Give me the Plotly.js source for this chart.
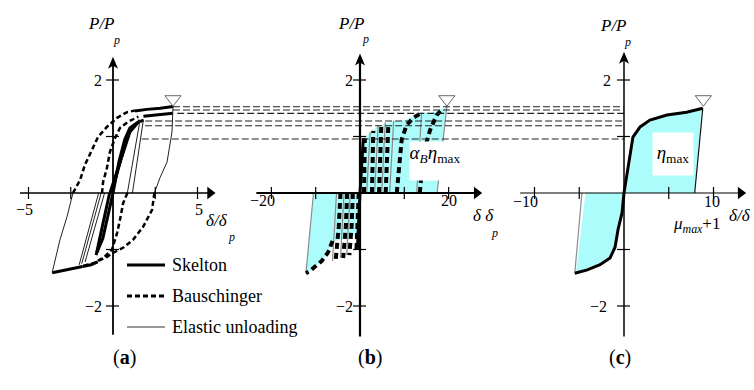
<!DOCTYPE html>
<html><head><meta charset="utf-8">
<script src="https://cdn.plot.ly/plotly-3.0.1.min.js"></script>
<style>html,body{margin:0;padding:0;background:#fff}#chart{width:754px;height:390px}</style>
</head><body><div id="chart"></div>
<script>
// ================= DATA (δ/δp , P/Pp) =================
// ---- panel (a): hysteresis loops ----
const aSkel1X=[0,0.35,0.7,1.0,1.4,1.8],      aSkel1Y=[0,0.55,0.95,1.15,1.24,1.29];
const aSkel2X=[-0.18,0.4,1.0,1.6],           aSkel2Y=[0,0.55,1.08,1.29];
const aSkel3X=[-0.08,0.4,0.81],              aSkel3Y=[0,0.55,0.97];
const aSkel4X=[1.3,2.0,2.8,3.55],            aSkel4Y=[1.45,1.48,1.5,1.53];
const aSkel5X=[1.8,2.6,3.55],                aSkel5Y=[1.36,1.38,1.41];
const aSkel6X=[0,-0.3,-0.6,-0.95],           aSkel6Y=[0,-0.4,-0.8,-1.05];
const aSkel7X=[-0.2,-0.6,-1.0],              aSkel7Y=[0,-0.55,-1.1];
const aSkel8X=[-0.9,-1.3,-1.8],              aSkel8Y=[-1.22,-1.27,-1.3];
const aSkel9X=[-1.8,-2.7,-3.6],              aSkel9Y=[-1.3,-1.36,-1.41];

const aEla1X=[3.55,3.49,3.2,2.78,2.45],      aEla1Y=[1.53,1.08,0.55,0.27,0];
const aEla2X=[-3.6,-3.14,-2.72,-2.37],       aEla2Y=[-1.41,-0.83,-0.42,0];
const aEla3X=[1.6,0.85],                     aEla3Y=[1.29,0];
const aEla4X=[1.8,1.15],                     aEla4Y=[1.3,0];
const aEla5X=[-1.65,-0.5],                   aEla5Y=[-1.22,0];
const aEla6X=[-1.85,-0.7],                   aEla6Y=[-1.25,0];
const aEla7X=[-2.0,-0.85],                   aEla7Y=[-1.27,0];

const aBaus1X=[-2.37,-1.95,-1.66,-1.18,-0.89,-0.36,0.24,0.83,1.3], aBaus1Y=[0,0.23,0.5,0.8,0.99,1.17,1.33,1.43,1.46];
const aBaus2X=[-0.65,-0.59,-0.36,-0.18,0.12,0.41,0.89,1.5],       aBaus2Y=[0,0.19,0.44,0.73,0.97,1.15,1.26,1.35];
const aBaus3X=[2.45,2.31,1.78,1.18,0.59,0,-0.36,-1.13,-1.8],      aBaus3Y=[0,-0.3,-0.6,-0.83,-0.97,-1.06,-1.13,-1.24,-1.29];
const aBaus4X=[0.85,0.6,0.41,0.24,-0.06,-0.5,-0.9],               aBaus4Y=[0,-0.18,-0.48,-0.71,-1.0,-1.13,-1.2];

// ---- panel (b): decomposed Bauschinger parts ----
const bCyanPosX=[0,0.75,1.1,2.3,3.0,4.1,4.8,5.7,6.4,7.6,9.4,10.5,12.0,13.9,15.8,17.3,18.8,19.6,17.4];
const bCyanPosY=[0,0.97,0.97,1.08,1.1,1.2,1.17,1.25,1.22,1.28,1.28,1.3,1.36,1.42,1.42,1.45,1.5,1.53,0];
const bCyanNegX=[0,-0.5,-1.5,-2.5,-3.5,-4.5,-5.5,-6.4,-7.2,-8.6,-10.0,-11.3,-12.2,-10.5];
const bCyanNegY=[0,-0.8,-0.75,-0.8,-0.8,-0.82,-0.85,-0.89,-1.05,-1.2,-1.3,-1.38,-1.42,0];

const bSkelPosX=[0,0.35,0.75],  bSkelPosY=[0,0.55,0.97];
const bSkelNegX=[0,-0.3,-0.6],  bSkelNegY=[0,-0.5,-1.0];

const bBp1X=[0.9,1.0,1.1],   bBp1Y=[0,0.5,0.97];
const bBp2X=[2.7,2.8,3.0],   bBp2Y=[0,0.6,1.1];
const bBp3X=[4.3,4.45,4.8],  bBp3Y=[0,0.6,1.17];
const bBp4X=[5.8,6.0,6.4],   bBp4Y=[0,0.6,1.22];
const bBp5X=[8.3,8.8,9.4,10.5,12.0,13.9],  bBp5Y=[0,0.5,0.94,1.2,1.33,1.42];
const bBp6X=[13.5,13.9,14.3,15.8,17.3,18.8], bBp6Y=[0,0.35,0.7,1.11,1.38,1.5];
const bBn1X=[-0.3,-0.5,-0.8],  bBn1Y=[0,-0.6,-1.0];
const bBn2X=[-1.6,-1.9,-2.4],  bBn2Y=[0,-0.6,-1.1];
const bBn3X=[-2.9,-3.2,-3.8],  bBn3Y=[0,-0.6,-1.15];
const bBn4X=[-4.4,-4.8,-5.5],  bBn4Y=[0,-0.6,-1.2];
const bBn5X=[-6.2,-7.2,-8.6,-10.0,-11.3,-12.2], bBn5Y=[-0.85,-1.05,-1.2,-1.3,-1.38,-1.42];

const bEp1X=[1.5,2.3],   bEp1Y=[0,1.08];
const bEp2X=[3.3,4.1],   bEp2Y=[0,1.2];
const bEp3X=[4.9,5.7],   bEp3Y=[0,1.25];
const bEp4X=[6.7,7.6],   bEp4Y=[0,1.28];
const bEp5X=[12.8,13.9], bEp5Y=[0,1.42];
const bEp6X=[17.4,19.6], bEp6Y=[0,1.53];
const bEn1X=[-10.5,-12.2], bEn1Y=[0,-1.42];
const bEn2X=[-2.2,-3.0],   bEn2Y=[0,-1.1];
const bEn3X=[-3.6,-4.4],   bEn3Y=[0,-1.15];
const bEn4X=[-5.3,-6.2],   bEn4Y=[0,-1.2];

// ---- panel (c): skeleton curve ----
const cSkelPosX=[0,0.34,0.67,1.0,1.8,2.9,4.8,7.0,8.8],          cSkelPosY=[0,0.35,0.64,0.99,1.17,1.29,1.38,1.43,1.5];
const cSkelNegX=[0,-0.22,-0.67,-1.0,-1.56,-2.68,-4.1,-5.5],       cSkelNegY=[0,-0.35,-0.65,-0.96,-1.15,-1.27,-1.36,-1.42];
const cElaPosX=[8.8,7.9],  cElaPosY=[1.5,0];
const cElaNegX=[-5.5,-4.7], cElaNegY=[-1.42,0];
const cCyanPosX=[0.2,0.55,0.85,1.2,1.95,2.95,4.8,7.0,8.7,7.85], cCyanPosY=[0,0.35,0.64,0.99,1.15,1.26,1.36,1.41,1.48,0];
const cCyanNegX=[-0.1,-0.3,-0.75,-1.1,-1.65,-2.7,-4.1,-5.35,-4.3], cCyanNegY=[0,-0.33,-0.62,-0.93,-1.12,-1.24,-1.33,-1.39,0];

// ---- peak markers & peak levels ----
const triX={a:3.55,b:19.6,c:8.86}, triY=1.66;
const peakLevels=[1.527,1.469,1.41,1.274,1.19,0.956];
const peakStartA=[3.55,3.55,3.8,1.9,1.9,1.7];

// ---- ticks ----
const aTicks=[-5,-2.5,2.5,5], aLabVals=[-5,5], aLabs=['−5','5'];
const bTicks=[-20,-10,10,20], bLabVals=[-20,20], bLabs=['−20','20'];
const cTicks=[-10,-5,5,10], cLabVals=[-10,10], cLabs=['−10','10'];
const yTicks=[-2,-1,1,2], yLabVals=[-2,2], yLabs=['−2','2'];
const legendNames=['Skelton','Bauschinger','Elastic unloading'];

// ================= LAYOUT GEOMETRY =================
const W=754,H=390;
const FONT='Liberation Serif, Times New Roman, serif';
const CYAN='#ADFCFC';
const OY=193, SY=56.5;
const G={a:{ox:113,sx:16.9,d0:0,d1:240,ax:'x'},
         b:{ox:360,sx:4.43,d0:245,d1:500,ax:'x2'},
         c:{ox:624,sx:8.95,d0:505,d1:754,ax:'x3'}};
const P=px=>px/W, Q=py=>1-py/H;
const toPx=(p,x)=>G[p].ox+G[p].sx*x;

const traces=[];
function ln(p,x,y,st){traces.push({type:'scatter',mode:'lines',x,y,xaxis:G[p].ax,yaxis:'y',line:st,hoverinfo:'skip',showlegend:false});}
function fl(p,x,y){traces.push({type:'scatter',mode:'lines',x,y,xaxis:G[p].ax,yaxis:'y',fill:'toself',fillcolor:CYAN,line:{width:0,color:CYAN},hoverinfo:'skip',showlegend:false});}

const SKEL={color:'#000',width:3};
const BAUS={color:'#000',width:2.5,dash:'5px,3px'};
const BAUSB={color:'#000',width:4,dash:'6px,4px'};
const ELAS={color:'#222',width:1};
const ELASG={color:'#8c8c8c',width:1.2};

// panel a
[[aSkel1X,aSkel1Y],[aSkel2X,aSkel2Y],[aSkel3X,aSkel3Y],[aSkel4X,aSkel4Y],[aSkel5X,aSkel5Y],[aSkel6X,aSkel6Y],[aSkel7X,aSkel7Y],[aSkel8X,aSkel8Y],[aSkel9X,aSkel9Y]].forEach(s=>ln('a',s[0],s[1],SKEL));
[[aEla1X,aEla1Y],[aEla2X,aEla2Y],[aEla3X,aEla3Y],[aEla4X,aEla4Y],[aEla5X,aEla5Y],[aEla6X,aEla6Y],[aEla7X,aEla7Y]].forEach(s=>ln('a',s[0],s[1],ELAS));
[[aBaus1X,aBaus1Y],[aBaus2X,aBaus2Y],[aBaus3X,aBaus3Y],[aBaus4X,aBaus4Y]].forEach(s=>ln('a',s[0],s[1],BAUS));
// panel b
fl('b',bCyanPosX,bCyanPosY); fl('b',bCyanNegX,bCyanNegY);
[[bEp1X,bEp1Y],[bEp2X,bEp2Y],[bEp3X,bEp3Y],[bEp4X,bEp4Y],[bEp5X,bEp5Y],[bEp6X,bEp6Y],[bEn1X,bEn1Y],[bEn2X,bEn2Y],[bEn3X,bEn3Y],[bEn4X,bEn4Y]].forEach(s=>ln('b',s[0],s[1],ELASG));
[[bBp1X,bBp1Y],[bBp2X,bBp2Y],[bBp3X,bBp3Y],[bBp4X,bBp4Y],[bBp5X,bBp5Y],[bBp6X,bBp6Y],[bBn1X,bBn1Y],[bBn2X,bBn2Y],[bBn3X,bBn3Y],[bBn4X,bBn4Y],[bBn5X,bBn5Y]].forEach(s=>ln('b',s[0],s[1],BAUSB));
ln('b',bSkelPosX,bSkelPosY,SKEL); ln('b',bSkelNegX,bSkelNegY,SKEL);
// panel c
fl('c',cCyanPosX,cCyanPosY); fl('c',cCyanNegX,cCyanNegY);
ln('c',cElaPosX,cElaPosY,{color:'#111',width:1.2}); ln('c',cElaNegX,cElaNegY,ELASG);
ln('c',cSkelPosX,cSkelPosY,SKEL); ln('c',cSkelNegX,cSkelNegY,SKEL);
// triangles
['a','b','c'].forEach(p=>traces.push({type:'scatter',mode:'markers',x:[triX[p]],y:[triY],xaxis:G[p].ax,yaxis:'y',
  marker:{symbol:'triangle-down-open',size:14,color:'#666',line:{width:1,color:'#666'}},cliponaxis:false,hoverinfo:'skip',showlegend:false}));

// ================= SHAPES & ANNOTATIONS =================
const shapes=[], ann=[];
peakLevels.forEach((lv,i)=>shapes.push({type:'line',xref:'paper',yref:'y',x0:P(toPx('a',peakStartA[i])),x1:P(toPx('c',0)),y0:lv,y1:lv,
  line:{color:'#222',width:1.1,dash:'7px,3px'}}));

const axSpec={a:{xs:-5.5,xe:6.1,yt:2.41,yb:-2.51,w:1.8,ticks:aTicks,lv:aLabVals,lb:aLabs,xlY:-16,xlN:-4,xlP:1,ylP:-15.5,ylN:-20},
              b:{xs:-23.4,xe:27.7,yt:2.47,yb:-2.54,w:2.2,ticks:bTicks,lv:bLabVals,lb:bLabs,xlY:-7,xlN:-9,xlP:0,ylP:-11.5,ylN:-16},
              c:{xs:-11.6,xe:13.7,yt:2.5,yb:-2.54,w:1.5,ticks:cTicks,lv:cLabVals,lb:cLabs,xlY:-8,xlN:-9,xlP:-2,ylP:-17,ylN:-26}};
const TF={family:FONT,size:16,color:'#000'};
const HEADY='M0,0 L5,-12 L0,-9 L-5,-12 Z';
['a','b','c'].forEach(p=>{
  const s=axSpec[p], xa=G[p].ax;
  shapes.push({type:'line',xref:xa,yref:'y',x0:s.xs,x1:s.xe-4/G[p].sx,y0:0,y1:0,line:{color:'#000',width:s.w*0.8}});
  shapes.push({type:'line',xref:xa,yref:'y',x0:0,x1:0,y0:s.yb,y1:s.yt-4/SY,line:{color:'#000',width:s.w}});
  shapes.push({type:'path',xref:xa,yref:'y',xsizemode:'pixel',ysizemode:'pixel',xanchor:0,yanchor:s.yt,path:HEADY,fillcolor:'#000',line:{width:0}});
  traces.push({type:'scatter',mode:'markers',x:[s.xe-6/G[p].sx],y:[0],xaxis:xa,yaxis:'y',cliponaxis:false,hoverinfo:'skip',showlegend:false,
    marker:{symbol:'triangle-right',size:11,color:'#000',line:{width:0}}});
  s.ticks.forEach(t=>shapes.push({type:'line',xref:xa,yref:'y',x0:t,x1:t,ysizemode:'pixel',yanchor:0,y0:-6,y1:6,line:{color:'#000',width:1.2}}));
  yTicks.forEach(t=>shapes.push({type:'line',xref:xa,yref:'y',y0:t,y1:t,xsizemode:'pixel',xanchor:0,x0:-7,x1:6,line:{color:'#000',width:1.2}}));
  s.lv.forEach((v,i)=>ann.push({xref:xa,yref:'y',x:v,y:0,text:s.lb[i],showarrow:false,font:TF,xanchor:'center',yanchor:'middle',yshift:s.xlY,xshift:v<0?s.xlN:s.xlP}));
  yLabVals.forEach((v,i)=>ann.push({xref:xa,yref:'y',x:0,y:v,text:yLabs[i],showarrow:false,font:TF,xanchor:'center',yanchor:'middle',xshift:v<0?s.ylN:s.ylP}));
});
// axis titles
const IT={family:FONT,size:17,color:'#000'}, ITs={family:FONT,size:12,color:'#000'};
function txt(px,py,t,f,extra){ann.push(Object.assign({xref:'paper',yref:'paper',x:P(px),y:Q(py),text:t,showarrow:false,font:f,xanchor:'center',yanchor:'middle'},extra||{}));}
txt(101.5,23.5,'<i>P/P</i>',IT); txt(116,40,'<i>p</i>',ITs);
txt(351,23,'<i>P/P</i>',IT); txt(365,39.5,'<i>p</i>',ITs);
txt(613.5,25.5,'<i>P/P</i>',IT); txt(627,42,'<i>p</i>',ITs);
txt(216.5,220,'<i>δ/δ</i>',IT); txt(231,237,'<i>p</i>',ITs);
txt(483,215,'<i>δ δ</i>',IT); txt(495,232.5,'<i>p</i>',ITs);
txt(753,215,'<i>δ/δ</i>',IT,{xanchor:'right'});
// boxes
txt(434.5,161,'<i>α</i><sub><i>B</i></sub><i>η</i><sub>max</sub>',{family:FONT,size:19,color:'#000'},{bgcolor:'#fff',width:50,height:38,borderpad:0,valign:'top',align:'center'});
txt(673,154,'<i>η</i><sub>max</sub>',{family:FONT,size:19,color:'#000'},{bgcolor:'#fff',width:40,height:42,borderpad:0});
txt(696,225,'<i>μ</i><sub><i>max</i></sub>+1',{family:FONT,size:17,color:'#000'});
// legend
const legY=[265,296,327], legSt=[SKEL,{color:'#000',width:3,dash:'5px,3px'},{color:'#333',width:1}];
legY.forEach((y,i)=>{shapes.push({type:'line',xref:'paper',yref:'paper',x0:P(127),x1:P(165),y0:Q(y),y1:Q(y),line:legSt[i]});
  txt(170,y,legendNames[i],{family:FONT,size:18,color:'#000'},{xanchor:'left'});});
// panel labels
const PL={family:FONT,size:20,color:'#000'};
txt(124,357,'(<b>a</b>)',PL); txt(370,357,'(<b>b</b>)',PL); txt(620,357,'(<b>c</b>)',PL);

const xax=p=>({domain:[P(G[p].d0),P(G[p].d1)],range:[(G[p].d0-G[p].ox)/G[p].sx,(G[p].d1-G[p].ox)/G[p].sx],visible:false,fixedrange:true,anchor:'y'});
const layout={width:W,height:H,margin:{l:0,r:0,t:0,b:0},paper_bgcolor:'#fff',plot_bgcolor:'rgba(0,0,0,0)',showlegend:false,
  font:{family:FONT},
  xaxis:xax('a'),xaxis2:xax('b'),xaxis3:xax('c'),
  yaxis:{domain:[0,1],range:[(OY-H)/SY,OY/SY],visible:false,fixedrange:true},
  shapes,annotations:ann};
Plotly.newPlot('chart',traces,layout,{staticPlot:true});
</script></body></html>
